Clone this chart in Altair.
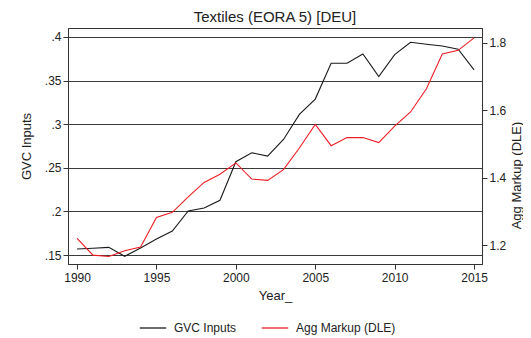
import altair as alt
import pandas as pd

years = list(range(1990, 2016))
gvc_inputs = [0.1569, 0.1577, 0.1588, 0.1485, 0.1580, 0.1683, 0.1775, 0.2005, 0.2039, 0.2127,
              0.2570, 0.2673, 0.2635, 0.2825, 0.3113, 0.3288, 0.3698, 0.3698, 0.3805, 0.3545,
              0.3797, 0.3939, 0.3916, 0.3897, 0.3859, 0.3622]
agg_markup = [1.220, 1.170, 1.166, 1.183, 1.194, 1.282, 1.297, 1.343, 1.386, 1.410,
              1.444, 1.396, 1.392, 1.424, 1.488, 1.558, 1.495, 1.519, 1.519, 1.504,
              1.553, 1.595, 1.664, 1.767, 1.778, 1.815]
series_names = ["GVC Inputs", "Agg Markup (DLE)"]
series_colors = ["#1a1a1a", "#ee1c25"]

df = pd.DataFrame({"Year": years, "GVC": gvc_inputs, "Markup": agg_markup})
df["s1"] = series_names[0]
df["s2"] = series_names[1]

font = "Liberation Sans"
color_scale = alt.Scale(domain=series_names, range=series_colors)
xenc = alt.X("Year:Q", scale=alt.Scale(domain=[1989.43, 2015.5], nice=False, zero=False),
             axis=alt.Axis(values=list(range(1990, 2016, 5)), format="d", title="Year_",
                           grid=False, tickSize=5, labelFontSize=12, titleFontSize=13,
                           labelPadding=3, titlePadding=6, domainColor="#333", tickColor="#333",
                           labelColor="#222", titleColor="#222", titleFontWeight="normal"))

left = alt.Chart(df).mark_line(strokeWidth=1.1).encode(
    x=xenc,
    y=alt.Y("GVC:Q", scale=alt.Scale(domain=[0.1397, 0.4103], nice=False, zero=False),
            axis=alt.Axis(values=[0.15, 0.2, 0.25, 0.3, 0.35, 0.4],
                          labelExpr="substring(format(datum.value, '.2~f'), 1)",
                          title="GVC Inputs", grid=True, gridColor="#3a3a3a", gridWidth=1,
                          tickSize=5, labelFontSize=12, titleFontSize=13, titlePadding=11,
                          domainColor="#333", tickColor="#333", labelColor="#222",
                          titleColor="#222", titleFontWeight="normal")),
    color=alt.Color("s1:N", scale=color_scale, title=None),
)

right = alt.Chart(df).mark_line(strokeWidth=1.1).encode(
    x=xenc,
    y=alt.Y("Markup:Q", scale=alt.Scale(domain=[1.1437, 1.8444], nice=False, zero=False),
            axis=alt.Axis(values=[1.2, 1.4, 1.6, 1.8], format=".1f", orient="right",
                          title="Agg Markup (DLE)", grid=False, tickSize=5,
                          labelFontSize=12, titleFontSize=13, titleAngle=270,
                          titleX=34, titleY=147, titleAlign="center", titleBaseline="middle",
                          domainColor="#333", tickColor="#333", labelColor="#222",
                          titleColor="#222", titleFontWeight="normal")),
    color=alt.Color("s2:N", scale=color_scale, title=None),
)

chart = alt.layer(left, right).resolve_scale(y="independent").properties(
    width=414, height=236,
    title=alt.TitleParams("Textiles (EORA 5) [DEU]", fontSize=15, fontWeight="normal",
                          color="#222", anchor="middle", offset=3),
    autosize=alt.AutoSizeParams(type="none"),
    padding={"left": 60, "top": 20, "right": 41, "bottom": 74},
).configure(font=font).configure_view(stroke="#333", strokeWidth=1).configure_legend(
    orient="none", legendX=71, legendY=286, direction="horizontal",
    symbolType="stroke", symbolSize=700, symbolStrokeWidth=1.3, labelFontSize=12,
    labelColor="#222", columnPadding=22, labelOffset=7,
)

chart.save("out.html", embed_options={"renderer": "svg", "actions": False})
